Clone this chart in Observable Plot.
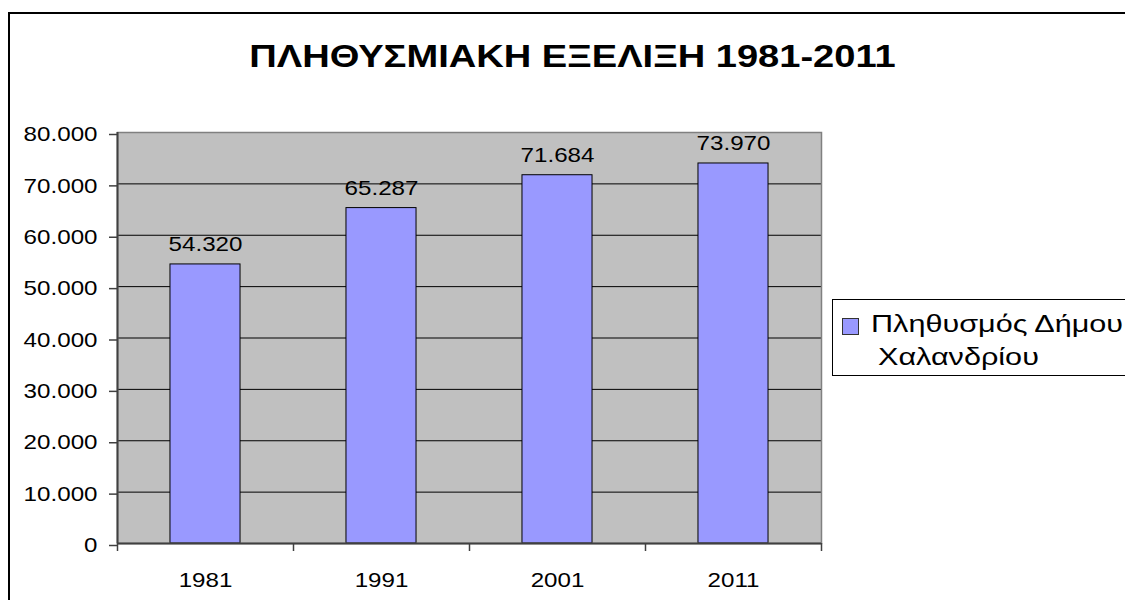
<!DOCTYPE html>
<html>
<head>
<meta charset="utf-8">
<script src="https://cdn.jsdelivr.net/npm/d3@7"></script>
<script src="https://cdn.jsdelivr.net/npm/@observablehq/plot@0.6"></script>
<style>
  html, body { margin: 0; padding: 0; background: #fff; }
  body { font-family: "Liberation Sans", Arial, sans-serif; color: #000; }
  #wrap { position: relative; width: 1125px; height: 600px; overflow: hidden; background: #fff; }
  #border { position: absolute; left: 8px; top: 12px; width: 1200px; height: 700px; border: 2px solid #000; box-sizing: border-box; }
  #title { position: absolute; left: 0; top: 40px; width: 1145px; text-align: center; font-size: 32px; line-height: 32px; font-weight: bold; white-space: nowrap; transform: scaleX(1.19); transform-origin: 572.5px 50%; }
  #chart { position: absolute; left: 0; top: 0; }
  #chart svg { background: none !important; overflow: visible; }
  #legend { position: absolute; left: 832px; top: 299px; width: 400px; height: 77px; border: 1px solid #000; box-sizing: border-box; background: #fff; }
  #swatch { position: absolute; left: 842px; top: 318px; width: 17px; height: 17px; background: #9999FF; border: 1px solid #333; box-sizing: border-box; }
  .leg { position: absolute; font-size: 23px; line-height: 23px; white-space: nowrap; transform: scaleX(1.33); transform-origin: left center; }
</style>
</head>
<body>
<div id="wrap">
  <div id="border"></div>
  <div id="title"></div>
  <div id="chart"></div>
  <div id="legend"></div>
  <div id="swatch"></div>
  <div class="leg" id="leg1" style="left:871px; top:313px;"></div>
  <div class="leg" id="leg2" style="left:878px; top:346px;"></div>
</div>
<script>
// ---- data ----
const title = "ΠΛΗΘΥΣΜΙΑΚΗ ΕΞΕΛΙΞΗ 1981-2011";
const years = ["1981", "1991", "2001", "2011"];
const population = [54320, 65287, 71684, 73970];
const seriesName = ["Πληθυσμός Δήμου", "Χαλανδρίου"];
const yTicks = [0, 10000, 20000, 30000, 40000, 50000, 60000, 70000, 80000];
const gridTicks = [10000, 20000, 30000, 40000, 50000, 60000, 70000];

document.getElementById("title").textContent = title;
document.getElementById("leg1").textContent = seriesName[0];
document.getElementById("leg2").textContent = seriesName[1];

const fmt = d3.formatLocale({decimal: ",", thousands: ".", grouping: [3], currency: ["", "€"]}).format(",d");

const table = years.map((y, i) => ({year: y, index: i, value: population[i]}));
const barHalf = 0.199; // half bar width in category steps
const boundaries = d3.range(years.length + 1);
const centers = years.map((y, i) => i + 0.5);

const chart = Plot.plot({
  width: 1125,
  height: 600,
  marginLeft: 117,
  marginRight: 304,
  marginTop: 132,
  marginBottom: 57,
  style: {fontFamily: '"Liberation Sans", Arial, sans-serif', fontSize: "21px", color: "#000", background: "none"},
  x: {type: "linear", domain: [0, years.length], axis: null, label: null},
  y: {domain: [0, 80000], axis: null, label: null},
  marks: [
    Plot.frame({fill: "#C0C0C0", stroke: null}),
    Plot.ruleY(gridTicks, {stroke: "#000", strokeWidth: 1}),
    Plot.rectY(table, {
      x1: d => d.index + 0.5 - barHalf,
      x2: d => d.index + 0.5 + barHalf,
      y: "value",
      fill: "#9999FF",
      stroke: "#000",
      strokeWidth: 1
    }),
    Plot.frame({stroke: "#808080", strokeWidth: 1.5}),
    Plot.ruleX([0], {stroke: "#404040", strokeWidth: 2}),
    Plot.ruleY([0], {stroke: "#404040", strokeWidth: 2}),
    Plot.axisY({
      ticks: yTicks,
      tickSize: 8,
      tickPadding: 12,
      tickFormat: fmt,
      stroke: "#404040",
      strokeWidth: 1.5,
      fill: "#000",
      fontSize: 21,
      dy: 2,
      label: null
    }),
    Plot.axisX({
      ticks: boundaries,
      tickSize: 8,
      tickFormat: () => "",
      stroke: "#404040",
      strokeWidth: 1.5,
      label: null
    }),
    Plot.axisX({
      ticks: centers,
      tickSize: 0,
      tickPadding: 29,
      tickFormat: d => years[Math.round(d - 0.5)],
      fill: "#000",
      fontSize: 21,
      label: null
    }),
    Plot.text(table, {
      x: d => d.index + 0.5,
      y: "value",
      text: d => fmt(d.value),
      dy: -20,
      fill: "#000",
      fontSize: 21
    })
  ]
});
document.getElementById("chart").appendChild(chart);
// widen the glyphs slightly, as in the reference (text stays real text)
chart.querySelectorAll("text").forEach(t => {
  const L = t.getComputedTextLength();
  if (L > 0) {
    t.setAttribute("textLength", (L * 1.15).toFixed(1));
    t.setAttribute("lengthAdjust", "spacingAndGlyphs");
  }
});
</script>
</body>
</html>
